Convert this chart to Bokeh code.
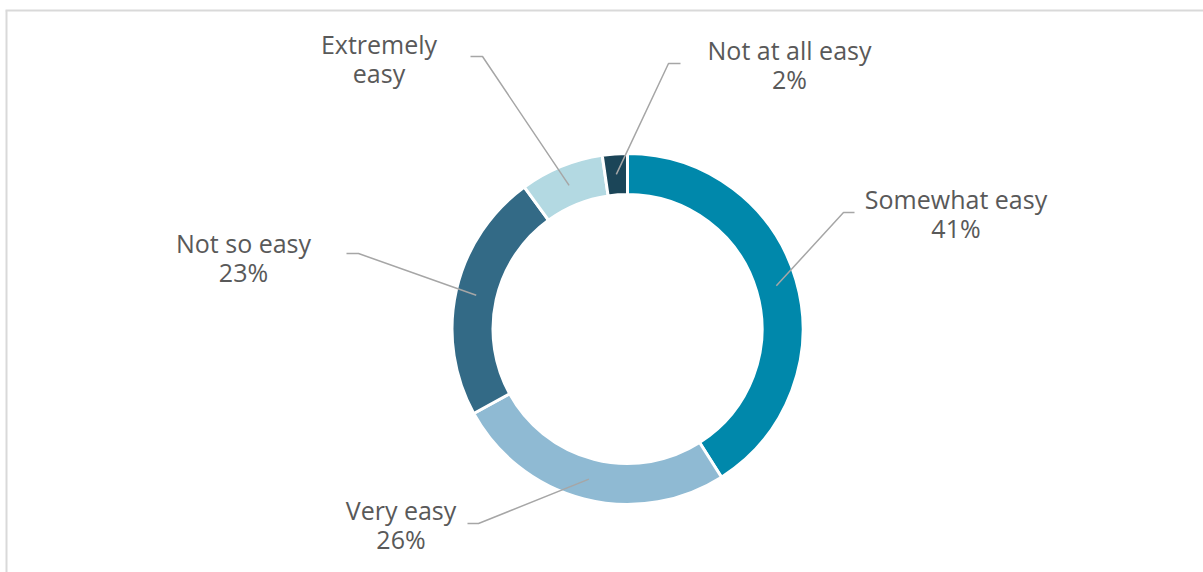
import math
from bokeh.plotting import figure
from bokeh.models import Range1d, ColumnDataSource
from bokeh.core.properties import value
from bokeh.embed import file_html
from bokeh.resources import INLINE

# ---- data ----
categories = ["Somewhat easy", "Very easy", "Not so easy", "Extremely easy", "Not at all easy"]
values = [41, 26, 23, 7.7, 2.3]
label_lines = [["Somewhat easy", "41%"], ["Very easy", "26%"], ["Not so easy", "23%"],
               ["Extremely", "easy"], ["Not at all easy", "2%"]]
colors = ["#0088AB", "#8FBAD3", "#336A86", "#B3D9E2", "#1B4558"]

# ---- layout (image pixel coords, y downwards) ----
W, H = 1203, 572
CX, CY = 627, 328.5
R_OUT, R_IN = 175.5, 134.5
R_LEAD = 155
label_pos = [(955.5, 198), (400.5, 509), (243, 242), (378.5, 43), (789, 49)]
line_gap = 29
leader_elbows = [[(843, 212), (854, 212)], [(478, 523), (467, 523)], [(358, 253), (346, 253)],
                 [(482, 56), (470, 56)], [(668, 63), (680, 63)]]

def fy(y):
    return H - y

p = figure(width=W, height=H, x_range=Range1d(0, W), y_range=Range1d(0, H),
           output_backend="svg", toolbar_location=None, min_border=0)
p.axis.visible = False
p.grid.visible = False
p.outline_line_color = None
p.background_fill_color = "white"
p.border_fill_color = "white"

# frame lines (top and left)
p.line([6, 6], [fy(10), fy(572)], line_color="#D9D9D9", line_width=2)
p.line([5, 1203], [fy(10), fy(10)], line_color="#D9D9D9", line_width=2)

total = float(sum(values))
starts, ends, mids = [], [], []
cum = 0.0
for v in values:
    t0 = cum / total * 2 * math.pi
    cum += v
    t1 = cum / total * 2 * math.pi
    starts.append(math.pi / 2 - t1)
    ends.append(math.pi / 2 - t0)
    mids.append((t0 + t1) / 2)

src = ColumnDataSource(dict(x=[CX] * len(values), y=[fy(CY)] * len(values),
                            start=starts, end=ends, color=colors, cat=categories))
p.annular_wedge(x="x", y="y", inner_radius=R_IN, outer_radius=R_OUT,
                start_angle="start", end_angle="end", fill_color="color",
                line_color="white", line_width=3, source=src)

# leader lines
for m, elbows in zip(mids, leader_elbows):
    sx = CX + R_LEAD * math.sin(m)
    sy = CY - R_LEAD * math.cos(m)
    xs = [sx] + [e[0] for e in elbows]
    ys = [fy(sy)] + [fy(e[1]) for e in elbows]
    p.line(xs, ys, line_color="#A6A6A6", line_width=1.5)

# labels
for (lx, ly), lines in zip(label_pos, label_lines):
    for i, t in enumerate(lines):
        p.text(x=[lx], y=[fy(ly + i * line_gap)], text=[t], text_align="center",
               text_baseline="alphabetic", text_color="#595959",
               text_font=value("Open Sans"), text_font_size="25px")

open("out.html", "w").write(file_html(p, INLINE))
